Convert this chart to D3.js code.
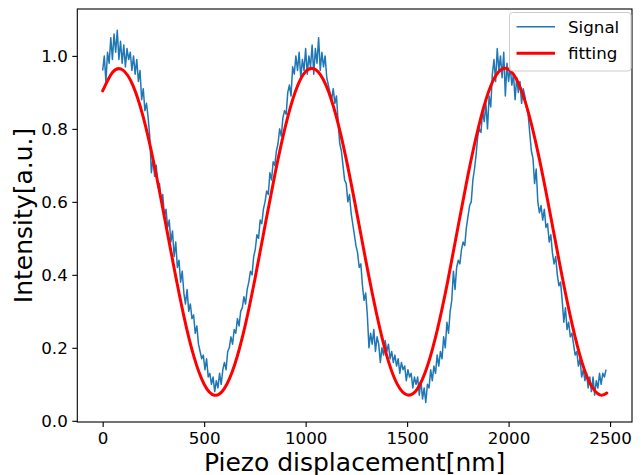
<!DOCTYPE html>
<html>
<head>
<meta charset="utf-8">
<script src="https://cdn.jsdelivr.net/npm/d3@7"></script>
<style>
  html, body { margin: 0; padding: 0; background: #fff; }
  svg { display: block; }
  text { font-family: "DejaVu Sans", sans-serif; fill: #000; }
</style>
</head>
<body>
<svg id="chart" width="644" height="475"></svg>
<script>
// ---------- data ----------
const signalStart = 0;      // nm
const signalStep = 8;       // nm between samples
const signalValues = [
  0.96, 1.00, 0.93, 1.01, 0.98, 1.05, 0.99, 1.06, 1.01, 1.07,
  0.99, 1.04, 0.98, 1.03, 0.97, 1.02, 0.99, 1.01, 0.96, 1.00,
  0.95, 0.99, 0.93, 0.96, 0.88, 0.91, 0.85, 0.87, 0.83, 0.78,
  0.68, 0.72, 0.67, 0.70, 0.64, 0.65, 0.60, 0.62, 0.56, 0.58,
  0.53, 0.55, 0.49, 0.52, 0.45, 0.49, 0.42, 0.44, 0.38, 0.41,
  0.35, 0.32, 0.36, 0.30, 0.32, 0.28, 0.29, 0.24, 0.26, 0.21,
  0.19, 0.17, 0.18, 0.14, 0.17, 0.12, 0.13, 0.10, 0.12, 0.08,
  0.11, 0.09, 0.13, 0.10, 0.14, 0.16, 0.14, 0.19, 0.20, 0.23,
  0.21, 0.25, 0.24, 0.28, 0.26, 0.30, 0.31, 0.34, 0.32, 0.36,
  0.38, 0.41, 0.40, 0.45, 0.47, 0.51, 0.50, 0.55, 0.54, 0.58,
  0.60, 0.63, 0.62, 0.68, 0.66, 0.71, 0.70, 0.74, 0.76, 0.80,
  0.78, 0.83, 0.85, 0.84, 0.90, 0.92, 0.89, 0.97, 0.95, 1.00,
  0.96, 1.01, 0.94, 0.99, 0.96, 1.02, 0.95, 1.00, 0.97, 1.03,
  0.95, 1.02, 0.98, 1.05, 0.96, 1.01, 0.97, 1.00, 0.94, 0.92,
  0.90, 0.88, 0.91, 0.87, 0.89, 0.82, 0.76, 0.74, 0.70, 0.66,
  0.65, 0.60, 0.62, 0.57, 0.54, 0.51, 0.48, 0.46, 0.42, 0.43,
  0.37, 0.33, 0.35, 0.29, 0.20, 0.24, 0.21, 0.25, 0.19, 0.23,
  0.21, 0.16, 0.20, 0.18, 0.22, 0.19, 0.21, 0.17, 0.19, 0.16,
  0.18, 0.15, 0.17, 0.13, 0.16, 0.14, 0.15, 0.11, 0.14, 0.12,
  0.13, 0.09, 0.12, 0.10, 0.12, 0.07, 0.11, 0.06, 0.09, 0.05,
  0.10, 0.09, 0.14, 0.11, 0.15, 0.13, 0.18, 0.15, 0.19, 0.17,
  0.23, 0.20, 0.27, 0.24, 0.30, 0.33, 0.41, 0.36, 0.42, 0.44,
  0.43, 0.47, 0.49, 0.48, 0.53, 0.56, 0.59, 0.60, 0.66, 0.69,
  0.73, 0.78, 0.80, 0.79, 0.85, 0.82, 0.87, 0.80, 0.89, 0.86,
  0.95, 0.99, 0.93, 1.02, 0.96, 1.00, 0.94, 1.01, 0.89, 0.98,
  0.93, 0.97, 0.92, 0.95, 0.88, 0.94, 0.90, 0.93, 0.87, 0.91,
  0.89, 0.86, 0.84, 0.79, 0.74, 0.72, 0.65, 0.69, 0.60, 0.57,
  0.59, 0.55, 0.58, 0.53, 0.54, 0.49, 0.51, 0.46, 0.43, 0.45,
  0.40, 0.37, 0.38, 0.33, 0.27, 0.31, 0.25, 0.27, 0.23, 0.24,
  0.21, 0.18, 0.19, 0.15, 0.17, 0.12, 0.14, 0.11, 0.13, 0.09,
  0.12, 0.08, 0.12, 0.07, 0.11, 0.09, 0.13, 0.10, 0.13, 0.12, 0.14
];

const fitX = [0, 50, 100, 150, 200, 250, 300, 350, 400, 450, 500, 550, 600, 650, 700,
  750, 800, 850, 900, 950, 1000, 1050, 1100, 1150, 1200, 1250, 1300, 1350, 1400, 1450,
  1500, 1550, 1600, 1650, 1700, 1750, 1800, 1850, 1900, 1950, 2000, 2050, 2100, 2150,
  2200, 2250, 2300, 2350, 2400, 2450, 2484];
const fitY = [0.904, 0.956, 0.961, 0.918, 0.832, 0.712, 0.571, 0.424, 0.287, 0.175,
  0.100, 0.070, 0.089, 0.153, 0.256, 0.388, 0.535, 0.679, 0.806, 0.903,
  0.957, 0.962, 0.920, 0.836, 0.717, 0.576, 0.429, 0.292, 0.178, 0.102,
  0.071, 0.087, 0.150, 0.252, 0.382, 0.529, 0.674, 0.801, 0.900, 0.956,
  0.963, 0.923, 0.840, 0.722, 0.582, 0.435, 0.297, 0.182, 0.104, 0.071, 0.076];

const xTicks = [0, 500, 1000, 1500, 2000, 2500];
const yTicks = [0.0, 0.2, 0.4, 0.6, 0.8, 1.0];
const seriesNames = ["Signal", "fitting"];
const xLabel = "Piezo displacement[nm]";
const yLabel = "Intensity[a.u.]";

// ---------- layout ----------
const plot = { left: 77.3, right: 632, top: 9, bottom: 422 };
const signalColor = "#1f77b4";
const fitColor = "#ff0000";

const svg = d3.select("#chart");

const x = d3.scaleLinear().domain([-125, 2608]).range([plot.left, plot.right]);
const y = d3.scaleLinear().domain([-0.0033, 1.1285]).range([plot.bottom, plot.top]);

const signal = signalValues.map((v, i) => ({ x: signalStart + i * signalStep, y: v }));
const fit = fitX.map((v, i) => ({ x: v, y: fitY[i] }));

// clip
svg.append("defs").append("clipPath").attr("id", "clip")
  .append("rect")
  .attr("x", plot.left).attr("y", plot.top)
  .attr("width", plot.right - plot.left).attr("height", plot.bottom - plot.top);

const g = svg.append("g").attr("clip-path", "url(#clip)");

g.append("path")
  .datum(signal)
  .attr("fill", "none")
  .attr("stroke", signalColor)
  .attr("stroke-width", 1.5)
  .attr("stroke-linejoin", "round")
  .attr("d", d3.line().x(d => x(d.x)).y(d => y(d.y)));

g.append("path")
  .datum(fit)
  .attr("fill", "none")
  .attr("stroke", fitColor)
  .attr("stroke-width", 3)
  .attr("stroke-linecap", "round")
  .attr("d", d3.line().curve(d3.curveNatural).x(d => x(d.x)).y(d => y(d.y)));

// axes
const xAxis = d3.axisBottom(x).tickValues(xTicks).tickFormat(d3.format("d"))
  .tickSize(5).tickSizeOuter(0).tickPadding(5);
const yAxis = d3.axisLeft(y).tickValues(yTicks).tickFormat(d3.format(".1f"))
  .tickSize(5).tickSizeOuter(0).tickPadding(4.5);

const gx = svg.append("g").attr("transform", `translate(0,${plot.bottom})`).call(xAxis);
const gy = svg.append("g").attr("transform", `translate(${plot.left},0)`).call(yAxis);
[gx, gy].forEach(a => {
  a.select(".domain").remove();
  a.selectAll(".tick line").attr("stroke", "#000").attr("stroke-width", 1.1);
  a.selectAll(".tick text").attr("font-size", "16.7px")
    .attr("font-family", "DejaVu Sans, sans-serif").attr("fill", "#000");
});

// frame (spines)
svg.append("rect")
  .attr("x", plot.left).attr("y", plot.top)
  .attr("width", plot.right - plot.left).attr("height", plot.bottom - plot.top)
  .attr("fill", "none").attr("stroke", "#000").attr("stroke-width", 1.1);

// axis labels
svg.append("text")
  .attr("x", (plot.left + plot.right) / 2).attr("y", 471)
  .attr("text-anchor", "middle").attr("font-size", "25px")
  .text(xLabel);

svg.append("text")
  .attr("transform", `translate(31.5,${(plot.top + plot.bottom) / 2}) rotate(-90)`)
  .attr("text-anchor", "middle").attr("font-size", "25px")
  .text(yLabel);

// legend
const leg = svg.append("g");
leg.append("rect")
  .attr("x", 509.5).attr("y", 12.5).attr("width", 121.5).attr("height", 58.5)
  .attr("rx", 3).attr("ry", 3)
  .attr("fill", "#fff").attr("fill-opacity", 0.8)
  .attr("stroke", "#cccccc").attr("stroke-width", 1);

const legItems = [
  { name: seriesNames[0], color: signalColor, w: 1.5, yy: 26.7 },
  { name: seriesNames[1], color: fitColor, w: 3, yy: 53.3 }
];
legItems.forEach(it => {
  leg.append("line")
    .attr("x1", 516.5).attr("x2", 555).attr("y1", it.yy).attr("y2", it.yy)
    .attr("stroke", it.color).attr("stroke-width", it.w);
  leg.append("text")
    .attr("x", 568).attr("y", it.yy).attr("dy", "0.35em")
    .attr("font-size", "16.7px")
    .text(it.name);
});
</script>
</body>
</html>
